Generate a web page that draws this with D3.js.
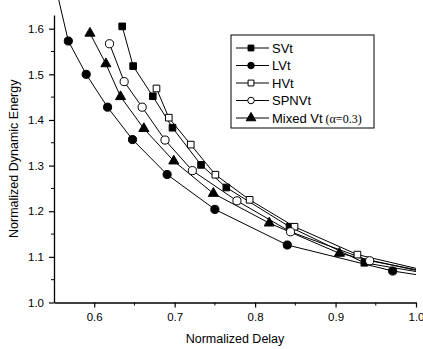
<!DOCTYPE html>
<html>
<head>
<meta charset="utf-8">
<script src="https://cdn.jsdelivr.net/npm/d3@7"></script>
<style>
  body { margin: 0; background: #fff; }
  svg { display: block; font-family: "Liberation Sans", Arial, sans-serif; }
</style>
</head>
<body>
<svg id="chart" width="423" height="349"></svg>
<script>
// data: [normalized delay, normalized dynamic energy]
const svtData = [[0.6348, 1.605], [0.6484, 1.518], [0.6728, 1.452], [0.6973, 1.383], [0.7328, 1.3015], [0.7642, 1.252], [0.8428, 1.166], [0.9358, 1.087], [1.06, 1.05]];
const lvtData = [[0.545, 1.745], [0.5678, 1.573], [0.590, 1.500], [0.6166, 1.428], [0.6476, 1.357], [0.6906, 1.2805], [0.750, 1.204], [0.840, 1.126], [0.971, 1.069], [1.06, 1.045]];
const hvtData = [[0.6774, 1.469], [0.6927, 1.405], [0.720, 1.346], [0.7506, 1.280], [0.7932, 1.225], [0.849, 1.166], [0.9272, 1.105], [1.06, 1.05]];
const spnvtData = [[0.619, 1.567], [0.6372, 1.484], [0.6596, 1.428], [0.688, 1.356], [0.722, 1.289], [0.7774, 1.2228], [0.844, 1.155], [0.9424, 1.0915], [1.06, 1.052]];
const mixedData = [[0.5947, 1.59], [0.6145, 1.523], [0.6327, 1.451], [0.6617, 1.381], [0.6989, 1.31], [0.7481, 1.239], [0.8176, 1.174], [0.9048, 1.1077], [1.06, 1.047]];

const seriesNames = ["SVt", "LVt", "HVt", "SPNVt", "Mixed Vt"];
const xTicks = [0.6, 0.7, 0.8, 0.9, 1.0];
const yTicks = [1.0, 1.1, 1.2, 1.3, 1.4, 1.5, 1.6];
const xMinor = [0.65, 0.75, 0.85, 0.95];
const yMinor = [1.05, 1.15, 1.25, 1.35, 1.45, 1.55];

const series = [
  { name: seriesNames[0], data: svtData, shape: d3.symbolSquare, fill: "#000" },
  { name: seriesNames[1], data: lvtData, shape: d3.symbolCircle, fill: "#000" },
  { name: seriesNames[2], data: hvtData, shape: d3.symbolSquare, fill: "#fff" },
  { name: seriesNames[3], data: spnvtData, shape: d3.symbolCircle, fill: "#fff" },
  { name: seriesNames[4], data: mixedData, shape: d3.symbolTriangle, fill: "#000" }
];

const svg = d3.select("svg#chart");
const margin = { top: 15, right: 7, bottom: 46.5, left: 54 };
const chartWidth = 423 - margin.left - margin.right;
const chartHeight = 349 - margin.top - margin.bottom;

const x = d3.scaleLinear([0.55, 1.0], [0, chartWidth]);
const y = d3.scaleLinear([1.0, 1.63], [chartHeight, 0]);

const g = svg.append("g").attr("transform", `translate(${margin.left},${margin.top})`);

// lines may run above the top of the frame but stop at x = 1.0
svg.append("defs").append("clipPath").attr("id", "clip")
  .append("rect").attr("x", -10).attr("y", -100).attr("width", chartWidth + 10).attr("height", chartHeight + 100);

const plot = g.append("g").attr("clip-path", "url(#clip)");

const line = d3.line().x(d => x(d[0])).y(d => y(d[1]));

const sizeOf = s => s === d3.symbolCircle ? 52 : 44;

series.forEach(s => {
  plot.append("path")
    .attr("d", line(s.data))
    .attr("fill", "none")
    .attr("stroke", "#000")
    .attr("stroke-width", 1);
});
series.forEach(s => {
  plot.selectAll(null)
    .data(s.data)
    .join("path")
    .attr("transform", d => `translate(${x(d[0])},${y(d[1])})`)
    .attr("d", d3.symbol(s.shape, sizeOf(s.shape)))
    .attr("fill", s.fill)
    .attr("stroke", "#000")
    .attr("stroke-width", 1);
});

// axes
const xAxis = g.append("g")
  .attr("transform", `translate(0,${chartHeight})`)
  .call(d3.axisBottom(x).tickValues(xTicks).tickFormat(d3.format(".1f")).tickSize(5).tickSizeOuter(0));
xAxis.append("g").selectAll("line").data(xMinor).join("line")
  .attr("x1", d => x(d)).attr("x2", d => x(d)).attr("y1", 0).attr("y2", 3).attr("stroke", "#000");

const yAxis = g.append("g")
  .call(d3.axisLeft(y).tickValues(yTicks).tickFormat(d3.format(".1f")).tickSize(5).tickSizeOuter(0));
yAxis.append("g").selectAll("line").data(yMinor).join("line")
  .attr("y1", d => y(d)).attr("y2", d => y(d)).attr("x1", 0).attr("x2", -3).attr("stroke", "#000");

[xAxis, yAxis].forEach(a => {
  a.select(".domain").attr("stroke-width", 1.3);
  a.selectAll(".tick line").attr("stroke-width", 1.2);
  a.selectAll("text").attr("font-size", 11.5).attr("font-family", "Liberation Sans, Arial, sans-serif").attr("fill", "#000");
});
xAxis.selectAll(".tick text").attr("dy", "0.9em");
yAxis.selectAll(".tick text").attr("x", -10);

svg.append("text")
  .attr("x", margin.left + chartWidth / 2)
  .attr("y", 343)
  .attr("text-anchor", "middle")
  .attr("font-size", 12.5)
  .text("Normalized Delay");

svg.append("text")
  .attr("transform", `translate(18,${margin.top + chartHeight / 2}) rotate(-90)`)
  .attr("text-anchor", "middle")
  .attr("font-size", 12.5)
  .text("Normalized Dynamic Energy");

// legend
const legend = svg.append("g").attr("transform", "translate(231,35)");
legend.append("rect")
  .attr("width", 143).attr("height", 93)
  .attr("fill", "#fff").attr("stroke", "#000").attr("stroke-width", 1);

const rows = legend.selectAll(".row")
  .data(series)
  .join("g")
  .attr("class", "row")
  .attr("transform", (d, i) => `translate(0,${13 + i * 17.5})`);

rows.append("line")
  .attr("x1", 5).attr("x2", 38).attr("y1", 0).attr("y2", 0)
  .attr("stroke", "#000").attr("stroke-width", 1);
rows.append("path")
  .attr("transform", "translate(20,0)")
  .attr("d", d => d3.symbol(d.shape, d.shape === d3.symbolTriangle ? 40 : 34)())
  .attr("fill", d => d.fill)
  .attr("stroke", "#000");

const labels = rows.append("text")
  .attr("x", 41)
  .attr("y", 4.5)
  .attr("font-size", 13)
  .text(d => d.name);
labels.filter(d => d.name === "Mixed Vt")
  .append("tspan")
  .attr("font-family", "Liberation Serif, 'Times New Roman', serif")
  .attr("font-size", 12)
  .text(" (α=0.3)");
</script>
</body>
</html>
